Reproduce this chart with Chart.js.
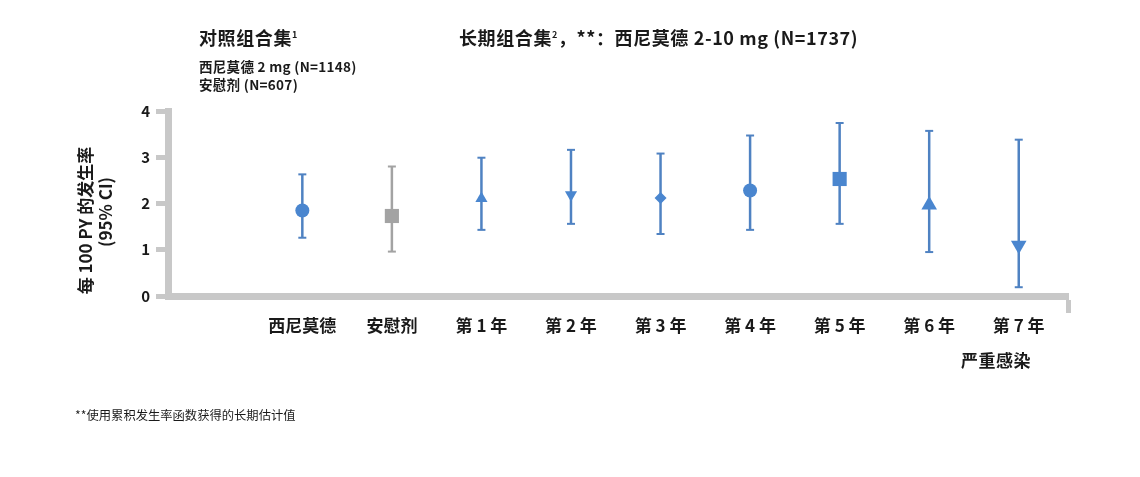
<!DOCTYPE html>
<html>
<head>
<meta charset="utf-8">
<script src="https://cdn.jsdelivr.net/npm/chart.js@4"></script>
<style>
  body { margin: 0; background: #fff; font-family: "Noto Sans CJK SC", "Liberation Sans", sans-serif; color: #1a1a1a; }
  #wrap { position: relative; width: 1140px; height: 477px; }
  canvas { position: absolute; left: 0; top: 0; }
  .t { position: absolute; white-space: nowrap; font-weight: bold; }
  sup { font-size: 9px; vertical-align: 7px; }
</style>
</head>
<body>
<div id="wrap">
  <canvas id="c" width="1140" height="477"></canvas>
  <div class="t" style="left:199px; top:24px; font-size:18px; letter-spacing:0.6px;">对照组合集<sup>1</sup></div>
  <div class="t" style="left:459px; top:24px; font-size:18px; letter-spacing:0.6px;">长期组合集<sup>2</sup>，**：西尼莫德 2-10 mg (N=1737)</div>
  <div class="t" style="left:199px; top:57px; font-size:13.5px; line-height:18px; letter-spacing:0.3px;">西尼莫德 2 mg (N=1148)<br>安慰剂 (N=607)</div>
  <div class="t" style="left:961px; top:347px; font-size:17px; letter-spacing:0.5px;">严重感染</div>
  <div class="t" style="left:75px; top:406px; font-size:12.3px; font-weight:normal;">**使用累积发生率函数获得的长期估计值</div>
</div>
<script>
// categories and values
var labels = ["西尼莫德", "安慰剂", "第 1 年", "第 2 年", "第 3 年", "第 4 年", "第 5 年", "第 6 年", "第 7 年"];
var rate  = [1.85, 1.73, 2.11, 2.19, 2.12, 2.28, 2.53, 1.97, 1.10];
var lower = [1.26, 0.96, 1.43, 1.56, 1.34, 1.43, 1.56, 0.95, 0.19];
var upper = [2.63, 2.80, 2.99, 3.16, 3.08, 3.47, 3.74, 3.57, 3.38];
var yTicks = [0, 1, 2, 3, 4];

var blue = '#4a86cf', blueLine = '#4f82c2', gray = '#a3a3a3', axisGray = '#c8c8c8';
var shapes   = ['circle', 'rect', 'triangle', 'triangle', 'rectRot', 'circle', 'rect', 'triangle', 'triangle'];
var sizes    = [7, 10, 7, 7, 6, 7, 10, 9, 9];
var rotation = [0, 0, 0, 180, 0, 0, 0, 0, 180];

var datasets = [{
  type: 'scatter',
  order: 0,
  data: rate.map(function (v, i) { return { x: i, y: v }; }),
  pointStyle: shapes,
  pointRadius: sizes,
  rotation: rotation,
  backgroundColor: labels.map(function (l, i) { return i === 1 ? gray : blue; }),
  borderWidth: 0
}];

// whiskers with caps
labels.forEach(function (l, i) {
  var col = i === 1 ? gray : blueLine;
  datasets.push({
    type: 'line',
    order: 1,
    data: [{ x: i, y: lower[i] }, { x: i, y: upper[i] }],
    borderColor: col,
    borderWidth: 2.5,
    pointStyle: 'line',
    pointRadius: 4,
    pointBorderColor: col,
    pointBorderWidth: 2
  });
});

var xMax = 8.55;
var font = { family: "'Noto Sans CJK SC', 'Liberation Sans', sans-serif", weight: 'bold' };

new Chart(document.getElementById('c'), {
  data: { datasets: datasets },
  options: {
    responsive: false,
    animation: false,
    layout: { padding: { left: 70, right: 72, top: 111, bottom: 121 } },
    plugins: { legend: { display: false }, tooltip: { enabled: false } },
    scales: {
      x: {
        type: 'linear',
        min: -1.5,
        max: xMax,
        afterBuildTicks: function (s) {
          s.ticks = labels.map(function (l, i) { return { value: i }; }).concat([{ value: xMax }]);
        },
        afterFit: function (s) { s.height = 60; },
        grid: {
          drawOnChartArea: false,
          drawTicks: true,
          tickLength: 17,
          tickWidth: 5,
          tickColor: function (ctx) { return ctx.index === labels.length ? axisGray : 'rgba(0,0,0,0)'; }
        },
        border: { display: true, width: 7, color: axisGray },
        ticks: {
          autoSkip: false,
          maxRotation: 0,
          padding: 2,
          color: '#1a1a1a',
          font: Object.assign({ size: 17 }, font),
          callback: function (v, i) { return labels[i] || ''; }
        }
      },
      y: {
        min: 0,
        max: 4,
        afterBuildTicks: function (s) { s.ticks = yTicks.map(function (v) { return { value: v }; }); },
        afterFit: function (s) { s.width = 98; },
        grid: {
          drawOnChartArea: false,
          drawTicks: true,
          tickLength: 12,
          tickWidth: 5,
          tickColor: axisGray
        },
        border: { display: true, width: 7, color: axisGray },
        ticks: {
          padding: 6,
          color: '#1a1a1a',
          font: Object.assign({ size: 15 }, font)
        },
        title: {
          display: true,
          // trailing ideographic spaces nudge the rotated lines down, as in the original
          text: ['每 100 PY 的发生率\u3000\u3000', '(95% CI)\u3000'],
          color: '#1a1a1a',
          font: Object.assign({ size: 17, lineHeight: 1.15 }, font),
          padding: { top: 6, bottom: 0 }
        }
      }
    }
  }
});
</script>
</body>
</html>
